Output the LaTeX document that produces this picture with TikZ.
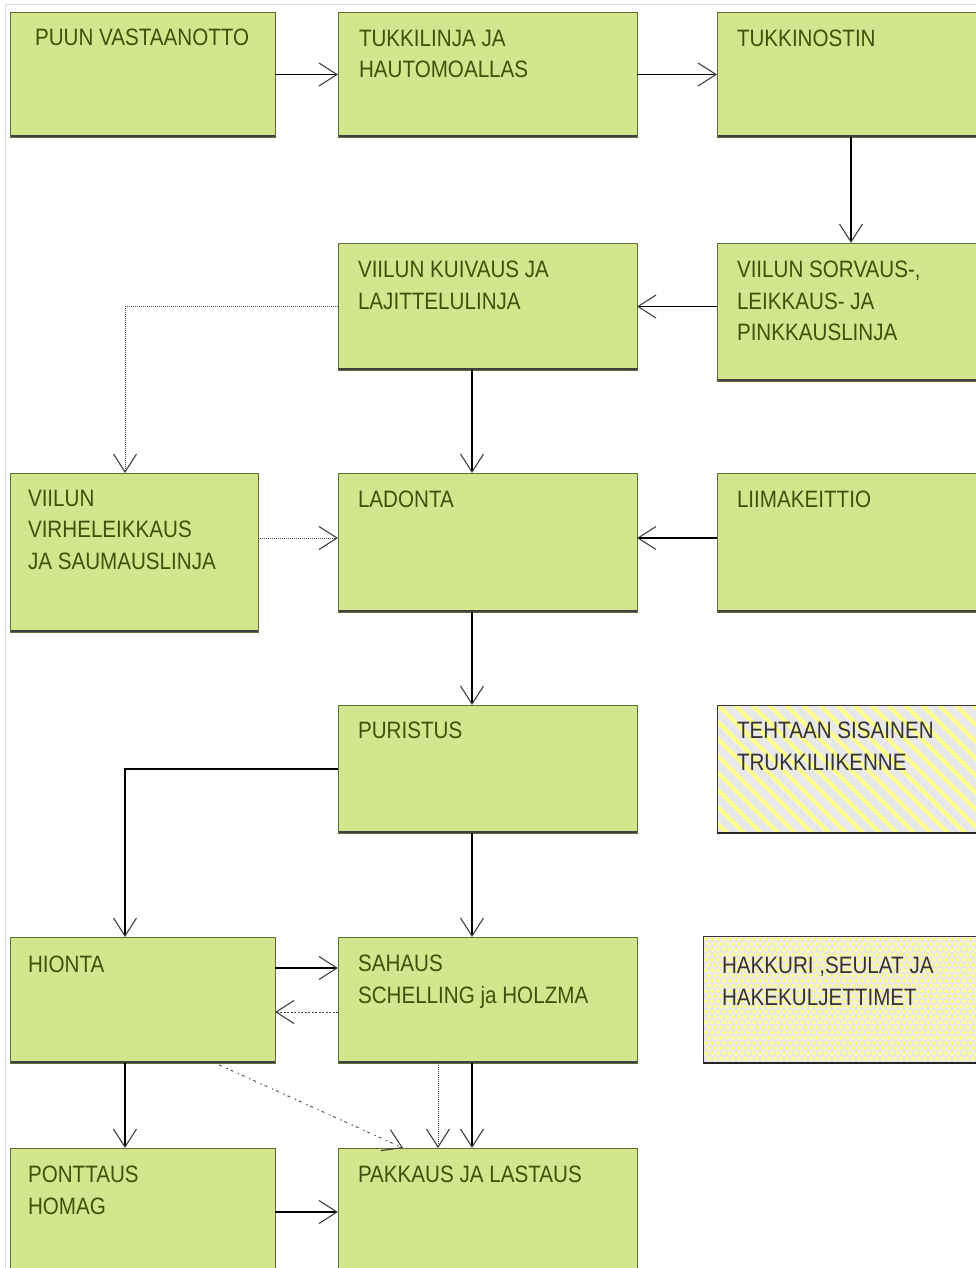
\documentclass[tikz,border=0pt]{standalone}
\usepackage{fontspec}
\newfontfamily\lblfont[FakeStretch=0.87]{Liberation Sans}
\usetikzlibrary{arrows.meta,calc}
\definecolor{boxfill}{RGB}{211,230,141}
\definecolor{boxedge}{RGB}{95,110,55}
\definecolor{txtgreen}{RGB}{62,82,12}
\definecolor{patbg}{RGB}{232,232,232}
\definecolor{patyel}{RGB}{255,255,140}
\definecolor{framecol}{RGB}{222,222,222}
\begin{document}
\begin{tikzpicture}[x=1pt,y=-1pt,
  box/.style={anchor=north west, inner sep=0pt, outer sep=0pt, fill=boxfill, draw=boxedge, line width=0.8pt,
    path picture={
      \draw[black!45,line width=2pt] (path picture bounding box.south west) -- (path picture bounding box.north west);
      \draw[black!75,line width=3.4pt] (path picture bounding box.south west) -- (path picture bounding box.south east);}},
  patbox/.style={anchor=north west, inner sep=0pt, outer sep=0pt, fill=patbg},
  patedge/.style={draw=black!80, line width=0.8pt},
  lbl/.style={anchor=north west, inner sep=0pt, outer sep=0pt, align=left, text=txtgreen,
    font=\lblfont\fontsize{23.7pt}{31.5pt}\selectfont},
  plbl/.style={lbl, text=black!80},
  headtip/.tip={Straight Barb[length=18pt,width=23pt,line width=1.1pt,color=black!75]},
  flow/.style={draw=black, line width=1.3pt, -headtip},
  dotflow/.style={draw=black!70, line width=0.9pt, dash pattern=on 1pt off 1pt, -headtip},
  dashflow/.style={draw=black!70, line width=0.9pt, dash pattern=on 2pt off 1.5pt, -headtip},
  diagflow/.style={draw=black!65, line width=1pt, dash pattern=on 1.5pt off 3pt on 3pt off 5pt, -headtip}
]
\useasboundingbox (0,0) rectangle (976,1268);
\draw[framecol, line width=1pt] (5,1268) -- (5,5) -- (976,5);

% boxes
\node[box, minimum width=265pt, minimum height=125pt] (puun) at (10,12) {};
\node[box, minimum width=299pt, minimum height=125pt] (tukki) at (338,12) {};
\node[box, minimum width=268pt, minimum height=125pt] (nostin) at (717,12) {};
\node[box, minimum width=299pt, minimum height=127pt] (kuivaus) at (338,243) {};
\node[box, minimum width=268pt, minimum height=138pt] (sorvaus) at (717,243) {};
\node[box, minimum width=248pt, minimum height=159pt] (virhe) at (10,473) {};
\node[box, minimum width=299pt, minimum height=139pt] (ladonta) at (338,473) {};
\node[box, minimum width=268pt, minimum height=139pt] (liima) at (717,473) {};
\node[box, minimum width=299pt, minimum height=128pt] (puristus) at (338,705) {};
\node[patbox, minimum width=268pt, minimum height=128pt] (tehtaan) at (717,705) {};
\node[box, minimum width=265pt, minimum height=126pt] (hionta) at (10,937) {};
\node[box, minimum width=299pt, minimum height=126pt] (sahaus) at (338,937) {};
\node[patbox, minimum width=282pt, minimum height=127pt] (hakkuri) at (703,936) {};
\node[box, minimum width=265pt, minimum height=130pt] (ponttaus) at (10,1148) {};
\node[box, minimum width=299pt, minimum height=130pt] (pakkaus) at (338,1148) {};

% striped pattern
\begin{scope}
  \clip (tehtaan.north west) rectangle (tehtaan.south east);
  \foreach \xx in {560,577,...,1000} \draw[patyel, line width=4.2pt] (\xx,700) -- ++(140,140);
\end{scope}
\draw[patedge] (tehtaan.north west) rectangle (tehtaan.south east);
\draw[black!85, line width=1.8pt] (tehtaan.south west) -- (tehtaan.south east);

% dotted pattern
\begin{scope}
  \clip (hakkuri.north west) rectangle (hakkuri.south east);
  \foreach \r in {0,...,25} {
    \foreach \c in {0,...,46} {
      \fill[patyel] ({706+6*\c+3*mod(\r,2)},{939+5.2*\r}) circle (2pt);
    }
  }
\end{scope}
\draw[patedge] (hakkuri.north west) rectangle (hakkuri.south east);
\draw[black!85, line width=1.8pt] (hakkuri.south west) -- (hakkuri.south east);

% labels
\node[lbl] (puunT) at (35,29) {PUUN VASTAANOTTO};
\node[lbl] (tukkiT) at (359,30) {TUKKILINJA JA\\HAUTOMOALLAS};
\node[lbl] (nostinT) at (737,30) {TUKKINOSTIN};
\node[lbl] (kuivausT) at (358,261) {VIILUN KUIVAUS JA\\LAJITTELULINJA};
\node[lbl] (sorvausT) at (737,261) {VIILUN SORVAUS-,\\LEIKKAUS- JA\\PINKKAUSLINJA};
\node[lbl] (virheT) at (28,490) {VIILUN\\VIRHELEIKKAUS\\JA SAUMAUSLINJA};
\node[lbl] (ladontaT) at (358,491) {LADONTA};
\node[lbl] (liimaT) at (737,491) {LIIMAKEITTIO};
\node[lbl] (puristusT) at (358,722) {PURISTUS};
\node[plbl] (tehtaanT) at (737,722) {TEHTAAN SISAINEN\\TRUKKILIIKENNE};
\node[lbl] (hiontaT) at (28,956) {HIONTA};
\node[lbl] (sahausT) at (358,955) {SAHAUS\\SCHELLING ja HOLZMA};
\node[plbl] (hakkuriT) at (722,957) {HAKKURI ,SEULAT JA\\HAKEKULJETTIMET};
\node[lbl] (ponttausT) at (28,1166) {PONTTAUS\\HOMAG};
\node[lbl] (pakkausT) at (358,1166) {PAKKAUS JA LASTAUS};

% helper coordinates
\coordinate (cx) at (472,0);
\coordinate (cl) at (125,0);
\coordinate (cd1) at (215,0);
\coordinate (cd2) at (403,0);
\coordinate (cdot) at (438,0);
\coordinate (r538) at (0,538);
\coordinate (r968) at (0,968);
\coordinate (r1012) at (0,1012);
\coordinate (r1212) at (0,1212);

% connectors
\draw[flow] (puun.east) -- (tukki.west);
\draw[flow] (tukki.east) -- (nostin.west);
\draw[flow] (nostin.south) -- (sorvaus.north);
\draw[flow] (sorvaus.west |- kuivaus.east) -- (kuivaus.east);
\draw[dotflow] (kuivaus.west) -| (virhe.north -| cl);
\draw[flow] (kuivaus.south -| cx) -- (ladonta.north -| cx);
\draw[dotflow] (virhe.east |- r538) -- (ladonta.west |- r538);
\draw[flow] (liima.west |- r538) -- (ladonta.east |- r538);
\draw[flow] (ladonta.south -| cx) -- (puristus.north -| cx);
\draw[flow] (puristus.west) -| (hionta.north -| cl);
\draw[flow] (puristus.south -| cx) -- (sahaus.north -| cx);
\draw[flow] (hionta.east |- r968) -- (sahaus.west |- r968);
\draw[dashflow] (sahaus.west |- r1012) -- (hionta.east |- r1012);
\draw[flow] (hionta.south -| cl) -- (ponttaus.north -| cl);
\draw[diagflow] (hionta.south -| cd1) -- (pakkaus.north -| cd2);
\draw[dotflow] (sahaus.south -| cdot) -- (pakkaus.north -| cdot);
\draw[flow] (sahaus.south -| cx) -- (pakkaus.north -| cx);
\draw[flow] (ponttaus.east |- r1212) -- (pakkaus.west |- r1212);
\end{tikzpicture}
\end{document}
